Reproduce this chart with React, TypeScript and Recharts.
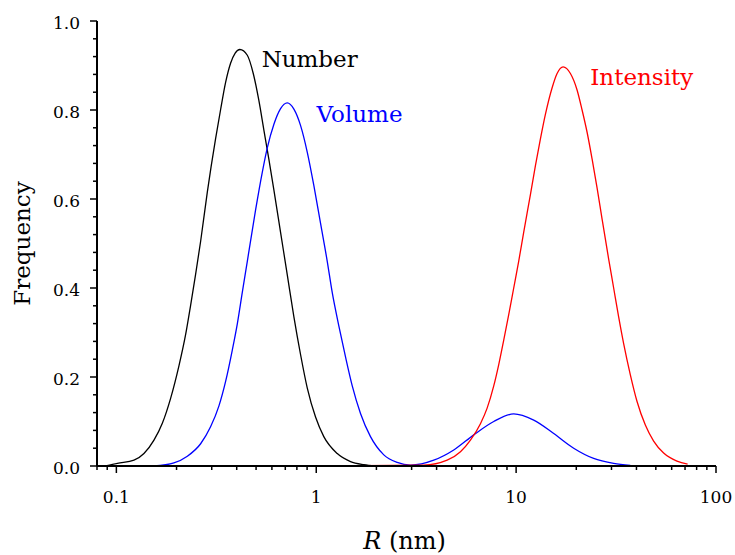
import React from 'react';
import { LineChart, Line, XAxis, YAxis, ReferenceDot, Label } from 'recharts';

// Number distribution (black)
const numberR = [0.0885, 0.1012, 0.1225, 0.1374, 0.1542, 0.1698, 0.1868, 0.2056, 0.222, 0.235, 0.249, 0.264, 0.285, 0.3135, 0.332, 0.352, 0.3727, 0.393, 0.415, 0.452, 0.484, 0.516, 0.547, 0.579, 0.614, 0.663, 0.716, 0.773, 0.835, 0.902, 0.992, 1.091, 1.274, 1.484, 1.73, 1.98];
const numberF = [0, 0.006, 0.013, 0.028, 0.058, 0.096, 0.152, 0.225, 0.295, 0.36, 0.43, 0.505, 0.615, 0.735, 0.8, 0.862, 0.905, 0.928, 0.936, 0.923, 0.882, 0.822, 0.755, 0.69, 0.62, 0.525, 0.43, 0.335, 0.25, 0.175, 0.11, 0.066, 0.028, 0.01, 0.003, 0];

// Volume distribution (blue)
const volumeR = [0.154, 0.194, 0.2265, 0.264, 0.296, 0.326, 0.352, 0.38, 0.403, 0.4266, 0.452, 0.497, 0.537, 0.569, 0.614, 0.663, 0.716, 0.773, 0.835, 0.902, 0.973, 1.051, 1.135, 1.202, 1.297, 1.401, 1.514, 1.665, 1.868, 2.178, 2.541, 2.962, 3.873, 4.875, 6.138, 7.727, 9.727, 12.25, 15.42, 19.41, 24.43, 30.76, 37.28];
const volumeF = [0, 0.007, 0.022, 0.05, 0.088, 0.135, 0.19, 0.26, 0.32, 0.39, 0.46, 0.575, 0.66, 0.715, 0.768, 0.803, 0.816, 0.802, 0.765, 0.705, 0.63, 0.545, 0.46, 0.39, 0.315, 0.245, 0.18, 0.118, 0.066, 0.025, 0.008, 0.002, 0.013, 0.036, 0.07, 0.1, 0.117, 0.103, 0.073, 0.04, 0.017, 0.006, 0.0015];

// Intensity distribution (red)
const intensityR = [0.716, 3.451, 4.519, 5.267, 5.909, 6.63, 7.161, 7.727, 8.185, 8.67, 9.183, 9.727, 10.3, 10.91, 11.79, 12.49, 13.23, 14.01, 15.14, 16.03, 17.18, 18.69, 20.18, 21.38, 22.65, 23.99, 25.41, 26.92, 29.04, 30.76, 32.58, 34.51, 37.28, 40.27, 44.31, 48.75, 54.7, 63.8, 72.1];
const intensityF = [0, 0.002, 0.013, 0.032, 0.058, 0.095, 0.13, 0.18, 0.228, 0.283, 0.34, 0.4, 0.46, 0.525, 0.61, 0.675, 0.735, 0.79, 0.85, 0.882, 0.897, 0.882, 0.845, 0.8, 0.75, 0.69, 0.625, 0.555, 0.465, 0.4, 0.335, 0.275, 0.205, 0.145, 0.092, 0.056, 0.029, 0.011, 0.004];

// Axis ticks
const xTicks = [0.08, 0.09, 0.1, 0.2, 0.3, 0.4, 0.5, 0.6, 0.7, 0.8, 0.9, 1, 2, 3, 4, 5, 6, 7, 8, 9, 10, 20, 30, 40, 50, 60, 70, 80, 90, 100];
const xMajor = [0.1, 1, 10, 100];
const xMajorLabels = ['0.1', '1', '10', '100'];
const yTicks = [0, 0.04, 0.08, 0.12, 0.16, 0.2, 0.24, 0.28, 0.32, 0.36, 0.4, 0.44, 0.48, 0.52, 0.56, 0.6, 0.64, 0.68, 0.72, 0.76, 0.8, 0.84, 0.88, 0.92, 0.96, 1];
const yMajor = [0, 0.2, 0.4, 0.6, 0.8, 1];
const yMajorLabels = ['0.0', '0.2', '0.4', '0.6', '0.8', '1.0'];

// Series labels
const seriesNames = ['Number', 'Volume', 'Intensity'];
const labelR = [0.533, 1.004, 23.5];
const labelF = [0.896, 0.773, 0.856];
const seriesColors = ['#000000', '#0000ff', '#ff0000'];

const zip = (r: number[], f: number[]) => r.map((v, i) => ({ r: v, f: f[i] }));
const numberData = zip(numberR, numberF);
const volumeData = zip(volumeR, volumeF);
const intensityData = zip(intensityR, intensityF);

const FONT = 'DejaVu Serif';
const MAJ = 7;
const MIN = 4;
const TICK_FONT = 17;

const isMajor = (list: number[], v: number) => list.some((m) => Math.abs(m - v) < 1e-9);

const BottomTick = (props: any) => {
  const { x, y, payload } = props;
  const v = payload.value;
  const idx = xMajor.findIndex((m) => Math.abs(m - v) < 1e-9);
  const len = idx >= 0 ? MAJ : MIN;
  return (
    <g>
      <line x1={x} y1={y} x2={x} y2={y + len} stroke="#000" strokeWidth={1.5} />
      {idx >= 0 && (
        <text x={x} y={y + 37} textAnchor="middle" fontFamily={FONT} fontSize={TICK_FONT} fill="#000">
          {xMajorLabels[idx]}
        </text>
      )}
    </g>
  );
};

const TopTick = (props: any) => {
  const { x, y, payload } = props;
  const len = isMajor(xMajor, payload.value) ? MAJ : MIN;
  return <line x1={x} y1={y} x2={x} y2={y + len} stroke="#000" strokeWidth={1.5} />;
};

const LeftTick = (props: any) => {
  const { x, y, payload } = props;
  const v = payload.value;
  const idx = yMajor.findIndex((m) => Math.abs(m - v) < 1e-9);
  const len = idx >= 0 ? MAJ : MIN;
  return (
    <g>
      <line x1={x} y1={y} x2={x - len} y2={y} stroke="#000" strokeWidth={1.5} />
      {idx >= 0 && (
        <text x={x - 17} y={y + 7.5} textAnchor="end" fontFamily={FONT} fontSize={TICK_FONT} fill="#000">
          {yMajorLabels[idx]}
        </text>
      )}
    </g>
  );
};

const RightTick = (props: any) => {
  const { x, y, payload } = props;
  const len = isMajor(yMajor, payload.value) ? MAJ : MIN;
  return <line x1={x} y1={y} x2={x - len} y2={y} stroke="#000" strokeWidth={1.5} />;
};

const makeLabelShape = (i: number) => (p: any) => (
  <text x={p.cx} y={p.cy} fontFamily={FONT} fontSize={23} fill={seriesColors[i]}>
    {seriesNames[i]}
  </text>
);

const axisLine = { stroke: '#000', strokeWidth: 2 };

export default function App() {
  return (
    <div style={{ position: 'absolute', left: 0, top: 0, background: '#fff' }}>
      <LineChart width={735} height={555} margin={{ top: 21, right: 19, bottom: 0, left: 0 }}>
        <XAxis
          xAxisId="b"
          type="number"
          dataKey="r"
          scale="log"
          domain={[0.08, 100]}
          allowDataOverflow
          ticks={xTicks}
          interval={0}
          height={89}
          tickSize={0}
          tickMargin={0}
          tickLine={false}
          axisLine={axisLine}
          tick={<BottomTick />}
        >
          <Label
            content={(p: any) => {
              const vb = p.viewBox;
              return (
                <text x={vb.x + vb.width / 2 - 2} y={vb.y + 83} textAnchor="middle" fontFamily={FONT} fontSize={24} fill="#000">
                  <tspan fontStyle="italic">R</tspan> (nm)
                </text>
              );
            }}
          />
        </XAxis>
        <XAxis
          xAxisId="t"
          orientation="top"
          type="number"
          dataKey="r"
          scale="log"
          domain={[0.08, 100]}
          allowDataOverflow
          ticks={xTicks}
          interval={0}
          height={0}
          tickSize={0}
          tickMargin={0}
          tickLine={false}
          axisLine={axisLine}
          tick={<TopTick />}
        />
        <YAxis
          yAxisId="l"
          type="number"
          domain={[0, 1]}
          allowDataOverflow
          ticks={yTicks}
          interval={0}
          width={97}
          tickSize={0}
          tickMargin={0}
          tickLine={false}
          axisLine={axisLine}
          tick={<LeftTick />}
        >
          <Label
            content={(p: any) => {
              const vb = p.viewBox;
              const cx = vb.x + 30;
              const cy = vb.y + vb.height / 2;
              return (
                <text x={cx} y={cy} transform={`rotate(-90 ${cx} ${cy})`} textAnchor="middle" fontFamily={FONT} fontSize={23} fill="#000">
                  Frequency
                </text>
              );
            }}
          />
        </YAxis>
        <YAxis
          yAxisId="r"
          orientation="right"
          type="number"
          domain={[0, 1]}
          allowDataOverflow
          ticks={yTicks}
          interval={0}
          width={0}
          tickSize={0}
          tickMargin={0}
          tickLine={false}
          axisLine={axisLine}
          tick={<RightTick />}
        />
        <Line xAxisId="b" yAxisId="l" data={numberData} dataKey="f" type="monotone" stroke={seriesColors[0]} strokeWidth={1.3} dot={false} isAnimationActive={false} />
        <Line xAxisId="b" yAxisId="l" data={volumeData} dataKey="f" type="monotone" stroke={seriesColors[1]} strokeWidth={1.3} dot={false} isAnimationActive={false} />
        <Line xAxisId="b" yAxisId="l" data={intensityData} dataKey="f" type="monotone" stroke={seriesColors[2]} strokeWidth={1.3} dot={false} isAnimationActive={false} />
        {seriesNames.map((n, i) => (
          <ReferenceDot key={n} xAxisId="b" yAxisId="l" x={labelR[i]} y={labelF[i]} r={0} ifOverflow="visible" shape={makeLabelShape(i)} />
        ))}
      </LineChart>
    </div>
  );
}
